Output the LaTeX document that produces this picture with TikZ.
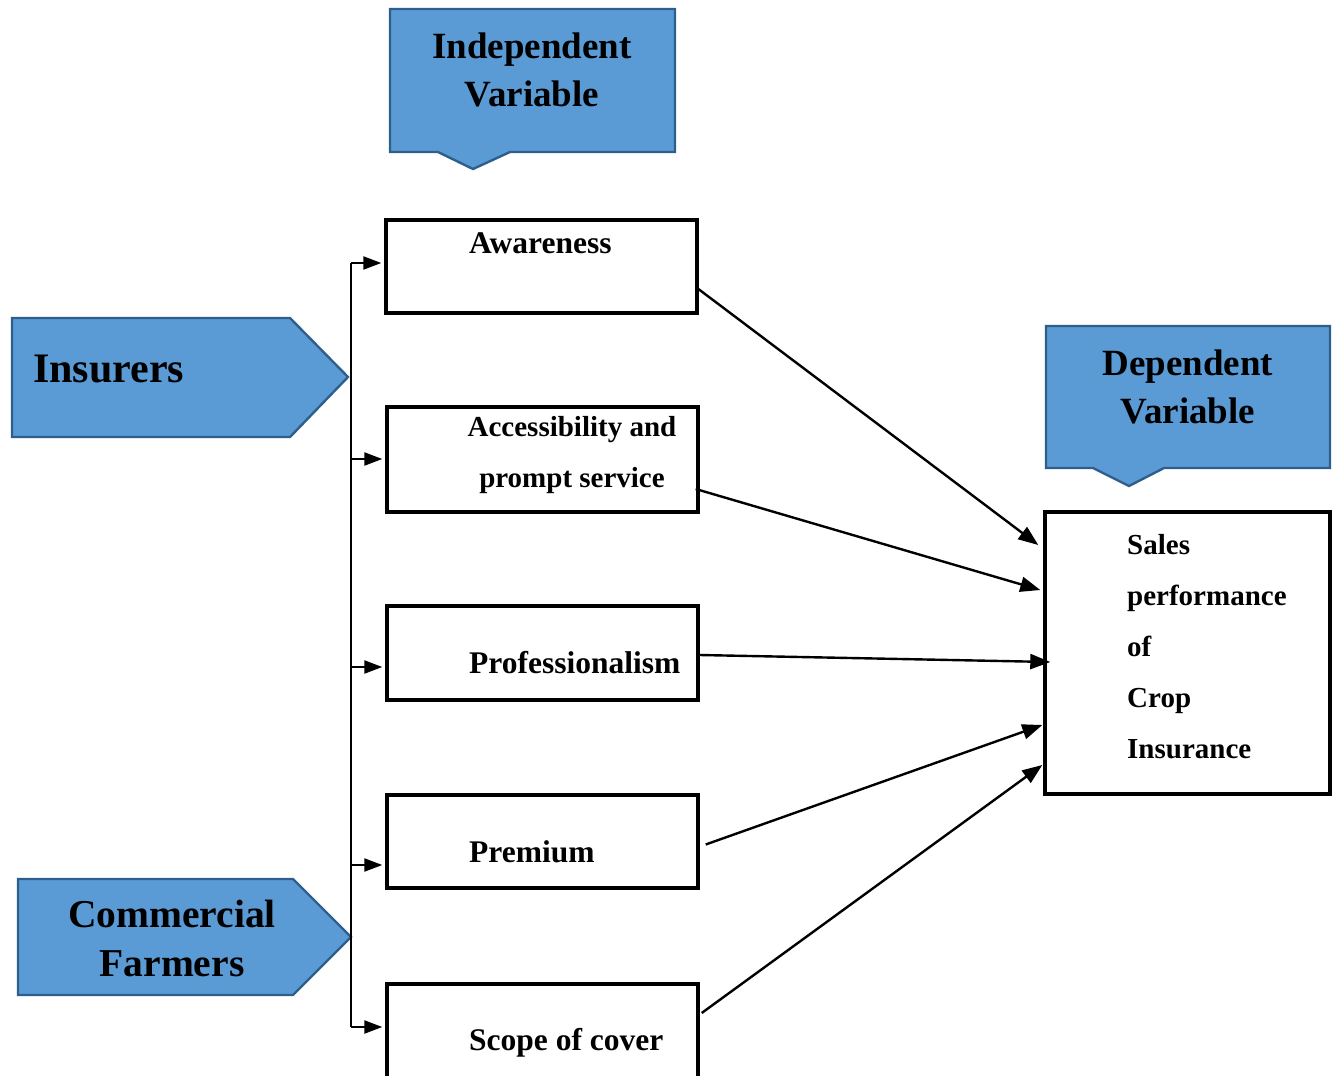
\documentclass[tikz,border=0pt]{standalone}
\usepackage{fontspec}
\setmainfont{Liberation Serif}
\usetikzlibrary{arrows.meta,calc}
\definecolor{fillblue}{HTML}{5B9BD5}
\definecolor{edgeblue}{HTML}{2E5F8C}
\begin{document}
\begin{tikzpicture}[x=1pt,y=-1pt,
  bluesh/.style={fill=fillblue,draw=edgeblue,line width=2.4pt,line join=miter},
  boxsh/.style={draw=black,line width=3.4pt,inner sep=0pt,minimum width=311pt},
  lbl/.style={inner sep=0pt,anchor=west,font=\bfseries\fontsize{31.5}{38}\selectfont},
  blbl/.style={inner sep=0pt,font=\bfseries\fontsize{37}{48}\selectfont,align=center},
  arr/.style={line width=2.4pt,-{Triangle[length=20pt,width=15pt]}},
  branch/.style={line width=2.2pt,-{Triangle[length=18pt,width=13pt]},shorten >=3pt}
]
\useasboundingbox (0,0) rectangle (1334,1076);
\clip (0,0) rectangle (1334,1076);

% blue callouts
\draw[bluesh] (390,9) -- (675,9) -- (675,152) -- (510,152) -- (473,169) -- (438,152) -- (390,152) -- cycle;
\node[blbl] (iv) at (532,70) {Independent\\Variable};

\draw[bluesh] (1046,326) -- (1330,326) -- (1330,468) -- (1164,468) -- (1129,486) -- (1093,468) -- (1046,468) -- cycle;
\node[blbl] (dv) at (1188,387) {Dependent\\Variable};

\draw[bluesh] (12,318) -- (290,318) -- (348,377) -- (290,437) -- (12,437) -- cycle;
\node[inner sep=0pt,anchor=west,font=\bfseries\fontsize{42}{48}\selectfont] (ins) at (33,369) {Insurers};

\draw[bluesh] (18,879) -- (293,879) -- (351,937) -- (293,995) -- (18,995) -- cycle;
\node[inner sep=0pt,font=\bfseries\fontsize{39.5}{49}\selectfont,align=center] (cf) at (172,938) {Commercial\\Farmers};

% boxes
\node[boxsh,minimum height=93pt] (aw) at (541.5,266.5) {};
\node[boxsh,minimum height=105pt] (ac) at (542.5,459.5) {};
\node[boxsh,minimum height=94pt] (pr) at (542.5,653) {};
\node[boxsh,minimum height=93pt] (pm) at (542.5,841.5) {};
\node[boxsh,minimum height=130pt] (sc) at (542.5,1049) {};
\node[draw=black,line width=3.4pt,inner sep=0pt,minimum width=285pt,minimum height=282pt] (sp) at (1187.5,653) {};

% labels
\node[lbl] (awl) at (469,243) {Awareness};
\node[inner sep=0pt,align=center,font=\bfseries\fontsize{29}{51}\selectfont] (acl) at (572,455) {Accessibility and\\prompt service};
\node[lbl] (prl) at (469,663) {Professionalism};
\node[lbl] (pml) at (469,852) {Premium};
\node[lbl] (scl) at (469,1043) {Scope of cover};
\node[inner sep=0pt,align=left,anchor=west,font=\bfseries\fontsize{29}{51}\selectfont] (spl) at (1127,646.5) {Sales\\performance\\of\\Crop\\Insurance};

% vertical distribution line
\coordinate (b1) at (351,263);
\coordinate (b2) at (351,459);
\coordinate (b3) at (351,667);
\coordinate (b4) at (351,865);
\coordinate (b5) at (351,1027);
\draw[line width=2pt] (b1) -- (b5);
\draw[branch] (b1) -- (b1 -| aw.west);
\draw[branch] (b2) -- (b2 -| ac.west);
\draw[branch] (b3) -- (b3 -| pr.west);
\draw[branch] (b4) -- (b4 -| pm.west);
\draw[branch] (b5) -- (b5 -| sc.west);

% arrows to dependent variable
\draw[arr] ([shift={(-3,20.5)}]aw.east) -- ([shift={(-5,-108)}]sp.west);
\draw[arr] ([shift={(-4,29.5)}]ac.east) -- ([shift={(-3,-63)}]sp.west);
\draw[arr] ([shift={(0,2)}]pr.east) -- ([shift={(7,9)}]sp.west);
\draw[arr] ([shift={(6,3)}]pm.east) -- ([shift={(-1,72)}]sp.west);
\draw[arr] ([shift={(2,-36)}]sc.east) -- ([shift={(-1,112)}]sp.west);
\end{tikzpicture}
\end{document}
